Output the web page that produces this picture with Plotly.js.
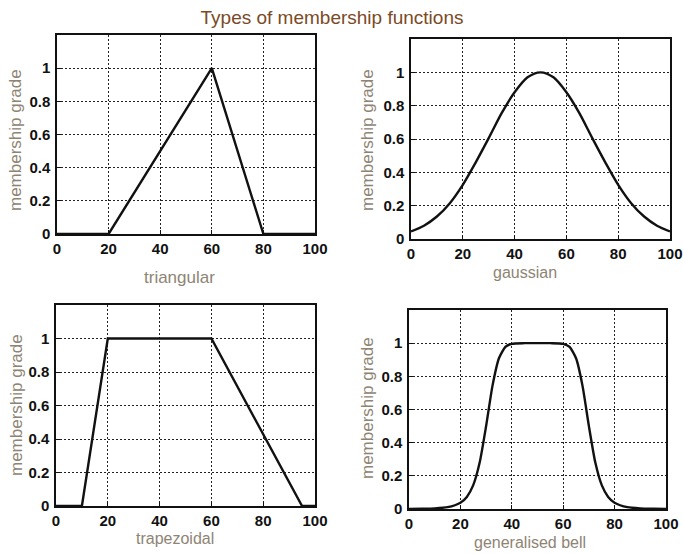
<!DOCTYPE html>
<html>
<head>
<meta charset="utf-8">
<script src="https://cdn.plot.ly/plotly-3.0.1.min.js"></script>
<style>html,body{margin:0;padding:0;background:#fff;}#chart{width:683px;height:554px;}</style>
</head>
<body>
<div id="chart"></div>
<script>
// ---- data ----
var triX = [0, 20, 60, 80, 100];
var triY = [0, 0, 1, 0, 0];

var gaussX = [0, 5, 10, 15, 20, 25, 30, 35, 40, 45, 50, 55, 60, 65, 70, 75, 80, 85, 90, 95, 100];
var gaussY = [0.045, 0.08, 0.135, 0.215, 0.325, 0.46, 0.605, 0.755, 0.88, 0.97, 1.0, 0.97, 0.88, 0.755, 0.605, 0.46, 0.325, 0.215, 0.135, 0.08, 0.045];

var trapX = [0, 10, 20, 60, 95, 100];
var trapY = [0, 0, 1, 1, 0, 0];

var bellX = [0, 5, 10, 15, 20, 22.5, 25, 27.5, 30, 32.5, 35, 37.5, 40, 45, 50, 55, 60, 62.5, 65, 67.5, 70, 72.5, 75, 77.5, 80, 85, 90, 95, 100];
var bellY = [0.001, 0.002, 0.004, 0.011, 0.038, 0.073, 0.144, 0.28, 0.5, 0.744, 0.909, 0.977, 0.996, 1.0, 1.0, 1.0, 0.996, 0.977, 0.909, 0.744, 0.5, 0.28, 0.144, 0.073, 0.038, 0.011, 0.004, 0.002, 0.001];

var xTicks = [0, 20, 40, 60, 80, 100];
var yTicks = [0, 0.2, 0.4, 0.6, 0.8, 1];
var yTickText = ['0', '0.2', '0.4', '0.6', '0.8', '1'];

var chartTitle = 'Types of membership functions';
var yLabel = 'membership grade';
var xLabels = ['triangular', 'gaussian', 'trapezoidal', 'generalised bell'];

// ---- drawing ----
var lineStyle = {color: '#111', width: 2.4};
var traces = [
  {x: triX, y: triY, xaxis: 'x', yaxis: 'y', mode: 'lines', line: lineStyle},
  {x: gaussX, y: gaussY, xaxis: 'x2', yaxis: 'y2', mode: 'lines', line: Object.assign({shape: 'spline', smoothing: 0.8}, lineStyle)},
  {x: trapX, y: trapY, xaxis: 'x3', yaxis: 'y3', mode: 'lines', line: lineStyle},
  {x: bellX, y: bellY, xaxis: 'x4', yaxis: 'y4', mode: 'lines', line: Object.assign({shape: 'spline', smoothing: 0.6}, lineStyle)}
];

var tickFont = {family: 'Liberation Sans, Arial, sans-serif', size: 15, color: '#111', weight: 'bold'};
function xAx(domain, anchor) {
  return {domain: domain, anchor: anchor, range: [0, 100], tickvals: xTicks, ticktext: xTicks.map(String),
    showgrid: true, gridcolor: '#222', griddash: '2px,2px', gridwidth: 1,
    showline: true, mirror: true, linecolor: '#111', linewidth: 1.6,
    ticks: 'inside', ticklen: 4, tickcolor: '#111', tickfont: tickFont, zeroline: false,
    automargin: false, fixedrange: true, ticklabelstandoff: 0};
}
function yAx(domain, anchor) {
  return {domain: domain, anchor: anchor, range: [0, 1.2], tickvals: yTicks, ticktext: yTickText,
    showgrid: true, gridcolor: '#222', griddash: '2px,2px', gridwidth: 1,
    showline: true, mirror: true, linecolor: '#111', linewidth: 1.6,
    ticks: 'inside', ticklen: 4, tickcolor: '#111', tickfont: tickFont, zeroline: false,
    automargin: false, fixedrange: true, ticklabelstandoff: 2};
}
var W = 683, H = 554;
function px(a, b) { return [a / W, b / W]; }
function py(top, bottom) { return [1 - bottom / H, 1 - top / H]; }

var labFont = {family: 'Liberation Sans, Arial, sans-serif', size: 16, color: '#8e8474'};
function ann(text, x, y, rot, size) {
  var f = Object.assign({}, labFont);
  if (size) f.size = size;
  return {text: text, x: x / W, y: 1 - y / H, xref: 'paper', yref: 'paper', showarrow: false,
    font: f, textangle: rot || 0, xanchor: 'center', yanchor: 'middle'};
}

var layout = {
  width: W, height: H,
  margin: {l: 0, r: 0, t: 0, b: 0},
  paper_bgcolor: '#fff', plot_bgcolor: '#fff',
  showlegend: false,
  title: {text: chartTitle, x: 332 / W, xanchor: 'center', y: 1 - 17 / H, yanchor: 'middle',
    font: {family: 'Liberation Sans, Arial, sans-serif', size: 19, color: '#7b4a26'}},
  xaxis: xAx(px(57, 315), 'y'),
  yaxis: yAx(py(35, 234), 'x'),
  xaxis2: xAx(px(411, 670), 'y2'),
  yaxis2: yAx(py(39, 239), 'x2'),
  xaxis3: xAx(px(56, 315), 'y3'),
  yaxis3: yAx(py(305, 506), 'x3'),
  xaxis4: xAx(px(409, 666), 'y4'),
  yaxis4: yAx(py(310, 509), 'x4'),
  annotations: [
    ann(yLabel, 15, 140, -90, 17),
    ann(yLabel, 367, 140, -90, 17),
    ann(yLabel, 16, 405, -90, 17),
    ann(yLabel, 367, 408, -90, 17),
    ann(xLabels[0], 179, 277, 0, 17),
    ann(xLabels[1], 525, 272),
    ann(xLabels[2], 175, 538),
    ann(xLabels[3], 530, 542)
  ]
};

Plotly.newPlot('chart', traces, layout, {displayModeBar: false, staticPlot: true});
</script>
</body>
</html>
